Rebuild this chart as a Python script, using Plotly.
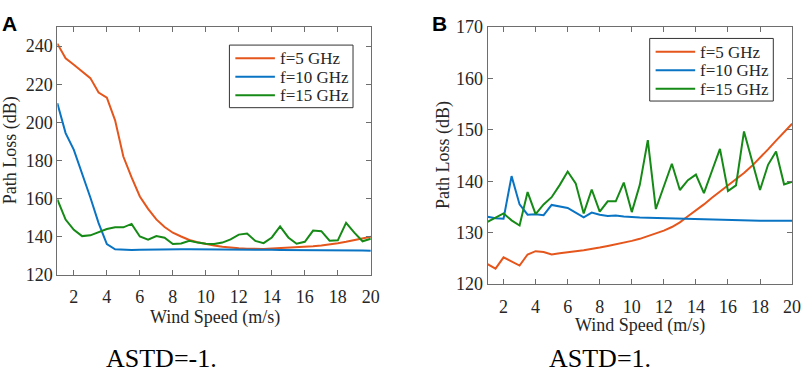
import plotly.graph_objects as go

wind_speed = [1, 1.5, 2, 2.5, 3, 3.5, 4, 4.5, 5, 5.5, 6, 6.5, 7, 7.5, 8, 8.5, 9, 9.5, 10, 10.5,
              11, 11.5, 12, 12.5, 13, 13.5, 14, 14.5, 15, 15.5, 16, 16.5, 17, 17.5, 18, 18.5, 19, 19.5, 20]

series_names = ["f=5 GHz", "f=10 GHz", "f=15 GHz"]

# Panel A (ASTD=-1.)
a_f5 = [241.3, 233.6, 230.2, 226.9, 223.2, 215.6, 212.9, 201.0, 182.0, 171.0,
        161.0, 154.5, 149.0, 145.0, 142.0, 140.0, 138.2, 137.0, 136.0, 135.3,
        134.6, 134.1, 133.8, 133.6, 133.5, 133.5, 133.7, 133.9, 134.1, 134.4,
        134.6, 134.9, 135.3, 135.8, 136.5, 137.2, 138.1, 139.0, 139.9]
a_f10 = [210.0, 194.3, 185.5, 173.5, 160.5, 147.0, 136.0, 133.3, 133.0, 132.9,
         133.1, 133.2, 133.2, 133.3, 133.3, 133.3, 133.3, 133.3, 133.3, 133.3,
         133.3, 133.2, 133.2, 133.1, 133.1, 133.0, 133.0, 132.9, 132.9, 132.9,
         132.8, 132.8, 132.7, 132.7, 132.7, 132.6, 132.6, 132.6, 132.5]
a_f15 = [159.5, 148.9, 143.5, 140.2, 140.6, 142.2, 143.9, 144.8, 144.8, 146.6,
         140.0, 138.3, 140.2, 139.4, 136.1, 136.3, 137.8, 136.8, 136.2, 136.1,
         136.8, 138.5, 141.0, 141.6, 137.7, 136.5, 139.5, 145.3, 139.5, 136.2,
         137.2, 143.1, 142.8, 137.8, 138.0, 147.2, 142.0, 137.5, 138.8]

# Panel B (ASTD=1.)
b_f5 = [123.9, 123.0, 125.2, 124.4, 123.6, 125.75, 126.4, 126.25, 125.75, 126.0,
        126.25, 126.4, 126.6, 126.8, 127.1, 127.4, 127.7, 128.0, 128.4, 128.8,
        129.3, 129.8, 130.4, 131.1, 132.0, 133.2, 134.3, 135.5, 136.8, 138.0,
        139.1, 140.4, 141.6, 143.0, 144.5, 146.2, 147.9, 149.6, 151.2]
b_f10 = [133.1, 132.8, 132.7, 141.0, 135.5, 133.5, 133.6, 133.4, 135.4, 135.1,
         134.8, 133.9, 133.0, 133.9, 133.5, 133.25, 133.35, 133.15, 133.0, 132.95,
         132.9, 132.85, 132.8, 132.75, 132.7, 132.65, 132.6, 132.55, 132.5, 132.45,
         132.4, 132.4, 132.35, 132.35, 132.3, 132.3, 132.3, 132.3, 132.3]
b_f15 = [132.1, 132.9, 133.75, 132.4, 131.4, 137.9, 133.6, 135.5, 136.9, 139.25,
         141.9, 139.6, 133.75, 138.4, 134.1, 136.1, 136.1, 139.75, 134.0, 139.3,
         148.0, 134.6, 139.0, 143.4, 138.3, 140.2, 141.3, 137.7, 142.0, 146.3,
         138.1, 139.2, 149.7, 144.0, 138.3, 143.2, 145.8, 139.4, 139.9]

x_ticks = [2, 4, 6, 8, 10, 12, 14, 16, 18, 20]
a_y_ticks = [120, 140, 160, 180, 200, 220, 240]
b_y_ticks = [120, 130, 140, 150, 160, 170]

colors = ["#E5561D", "#0A74C4", "#168A16"]
W, H = 809, 387
SERIF = "Times New Roman, Liberation Serif, serif"
AXC = "#6e6e6e"
TXT = "#262626"
FS = 18

fig = go.Figure()
for name, ys, c in zip(series_names, [a_f5, a_f10, a_f15], colors):
    fig.add_trace(go.Scatter(x=wind_speed, y=ys, mode="lines", name=name,
                             line=dict(color=c, width=2), xaxis="x", yaxis="y",
                             showlegend=False))
for name, ys, c in zip(series_names, [b_f5, b_f10, b_f15], colors):
    fig.add_trace(go.Scatter(x=wind_speed, y=ys, mode="lines", name=name,
                             line=dict(color=c, width=2), xaxis="x2", yaxis="y2",
                             showlegend=False))

def xax(domain, anchor):
    return dict(domain=domain, anchor=anchor, range=[1, 20], tickvals=x_ticks,
                ticks="inside", ticklen=5, tickcolor=AXC, showline=True, linecolor=AXC,
                linewidth=1, mirror="ticks", showgrid=False, zeroline=False,
                ticklabelstandoff=6,
                tickfont=dict(family=SERIF, size=FS, color=TXT))

def yax(domain, anchor, rng, tv):
    return dict(domain=domain, anchor=anchor, range=rng, tickvals=tv,
                ticks="inside", ticklen=5, tickcolor=AXC, showline=True, linecolor=AXC,
                linewidth=1, mirror="ticks", showgrid=False, zeroline=False,
                tickfont=dict(family=SERIF, size=FS, color=TXT))

ax_l, ax_r, ax_t, ax_b = 58, 375, 18, 279
bx_l, bx_r, bx_t, bx_b = 493, 801, 18, 289

fig.update_layout(
    width=W, height=H, margin=dict(l=0, r=0, t=0, b=0),
    paper_bgcolor="white", plot_bgcolor="white",
    xaxis=xax([ax_l / W, ax_r / W], "y"),
    yaxis=yax([1 - ax_b / H, 1 - ax_t / H], "x", [120, 250], a_y_ticks),
    xaxis2=xax([bx_l / W, bx_r / W], "y2"),
    yaxis2=yax([1 - bx_b / H, 1 - bx_t / H], "x2", [120, 170], b_y_ticks),
    showlegend=False,
)

def px(x):
    return x / W

def py(y):
    return 1 - y / H

shapes = []
ann = []

# Manual legend boxes (MATLAB style)
LEG_FS = 17
for (lx, ty) in [(232, 37), (657, 30)]:
    shapes.append(dict(type="rect", xref="paper", yref="paper",
                       x0=px(lx), x1=px(lx + 125), y0=py(ty + 66), y1=py(ty),
                       line=dict(color="#333333", width=1), fillcolor="white", layer="above"))
    for i, (name, c) in enumerate(zip(series_names, colors)):
        yy = ty + 14 + i * 19.5
        shapes.append(dict(type="line", xref="paper", yref="paper",
                           x0=px(lx + 6), x1=px(lx + 46), y0=py(yy), y1=py(yy),
                           line=dict(color=c, width=2), layer="above"))
        ann.append(dict(text=name, x=px(lx + 50), y=py(yy), xanchor="left", yanchor="middle",
                        borderpad=0, height=18,
                        font=dict(family=SERIF, size=LEG_FS, color=TXT)))

ann += [
    dict(text="<b>A</b>", x=px(0), y=py(0), xanchor="left", yanchor="top",
         font=dict(family="Liberation Sans, Arial, sans-serif", size=21, color="black")),
    dict(text="<b>B</b>", x=px(435), y=py(0), xanchor="left", yanchor="top",
         font=dict(family="Liberation Sans, Arial, sans-serif", size=21, color="black")),
    dict(text="Path Loss (dB)", x=px(10), y=py(148), textangle=-90,
         xanchor="center", yanchor="middle", font=dict(family=SERIF, size=FS, color=TXT)),
    dict(text="Path Loss (dB)", x=px(448), y=py(153), textangle=-90,
         xanchor="center", yanchor="middle", font=dict(family=SERIF, size=FS, color=TXT)),
    dict(text="Wind Speed (m/s)", x=px(217), y=py(324),
         xanchor="center", yanchor="middle", font=dict(family=SERIF, size=FS, color=TXT)),
    dict(text="Wind Speed (m/s)", x=px(647), y=py(333),
         xanchor="center", yanchor="middle", font=dict(family=SERIF, size=FS, color=TXT)),
    dict(text="ASTD=-1.", x=px(163), y=py(368),
         xanchor="center", yanchor="middle", font=dict(family=SERIF, size=26, color="black")),
    dict(text="ASTD=1.", x=px(607), y=py(368),
         xanchor="center", yanchor="middle", font=dict(family=SERIF, size=26, color="black")),
]
for a in ann:
    a.update(xref="paper", yref="paper", showarrow=False)
fig.update_layout(annotations=ann, shapes=shapes)

fig.write_html("out.html", config={"displayModeBar": False},
               post_script="document.body.style.margin='0';document.body.style.overflow='hidden';")
